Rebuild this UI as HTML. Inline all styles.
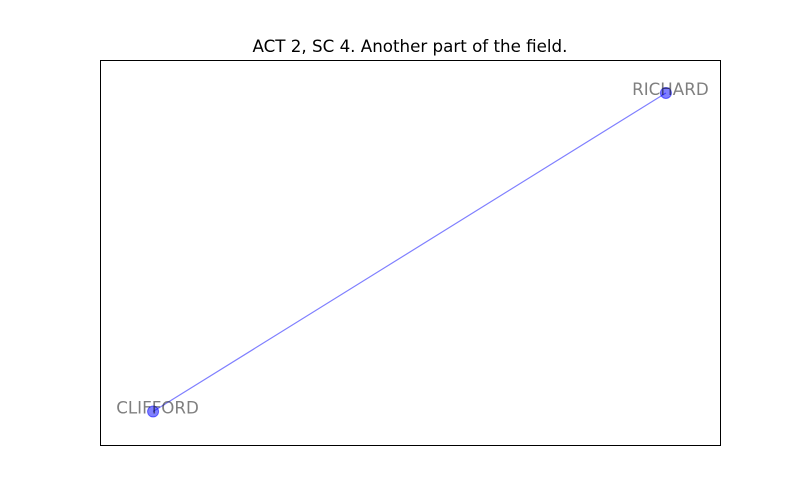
<!DOCTYPE html>
<html><head><meta charset="utf-8"><style>
body{margin:0;background:#fff;}
svg{display:block;font-family:"DejaVu Sans","Liberation Sans",sans-serif;}
</style></head><body>
<svg id="chart" width="800" height="500" viewBox="0 0 800 500">
<rect x="0" y="0" width="800" height="500" fill="#fff"/>
<text x="410" y="52" text-anchor="middle" font-size="16.7" fill="#000">ACT 2, SC 4. Another part of the field.</text>
<g id="edges"></g>
<g id="nodes"></g>
<g id="labels"></g>
<rect x="100.5" y="60.5" width="620" height="385" fill="none" stroke="#000" stroke-width="1"/>
</svg>
<script>
const nodeNames = ["CLIFFORD", "RICHARD"];
const nodeX = [-1, 1];
const nodeY = [-1, 1];
const edgeFrom = [0];
const edgeTo = [1];
const xDomain = [-1.207, 1.211];
const yDomain = [-1.21, 1.207];

const L=100,R=720,T=60,B=445;
function sx(v){return L+(v-xDomain[0])/(xDomain[1]-xDomain[0])*(R-L);}
function sy(v){return B-(v-yDomain[0])/(yDomain[1]-yDomain[0])*(B-T);}
const NS="http://www.w3.org/2000/svg";
const eg=document.getElementById('edges'),ng=document.getElementById('nodes'),lg=document.getElementById('labels');
for(let i=0;i<edgeFrom.length;i++){
  const a=edgeFrom[i],b=edgeTo[i];
  const l=document.createElementNS(NS,'line');
  l.setAttribute('x1',sx(nodeX[a]));l.setAttribute('y1',sy(nodeY[a]));
  l.setAttribute('x2',sx(nodeX[b]));l.setAttribute('y2',sy(nodeY[b]));
  l.setAttribute('stroke','rgba(0,0,255,0.5)');l.setAttribute('stroke-width','1.2');
  
  
  eg.appendChild(l);
}
for(let i=0;i<nodeNames.length;i++){
  const c=document.createElementNS(NS,'circle');
  c.setAttribute('cx',sx(nodeX[i]));c.setAttribute('cy',sy(nodeY[i]));c.setAttribute('r','5.5');
  c.setAttribute('fill','rgba(0,0,255,0.5)');c.setAttribute('stroke','rgba(0,0,255,0.5)');
  
  
  ng.appendChild(c);
  const t=document.createElementNS(NS,'text');
  t.setAttribute('x',sx(nodeX[i])+4.5);t.setAttribute('y',sy(nodeY[i])+2);
  t.setAttribute('text-anchor','middle');t.setAttribute('font-size','16.7');
  t.setAttribute('fill','rgba(0,0,0,0.5)');
  t.textContent=nodeNames[i];
  
  
  lg.appendChild(t);
}
</script>
</body></html>
